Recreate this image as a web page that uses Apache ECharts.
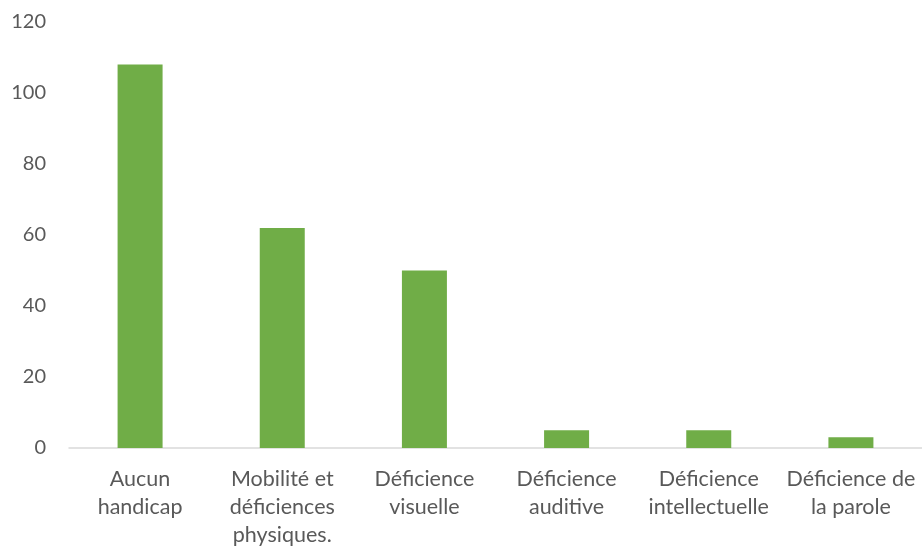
<!DOCTYPE html>
<html>
<head>
<meta charset="utf-8">
<script src="https://cdn.jsdelivr.net/npm/echarts@6/dist/echarts.min.js"></script>
<style>
  html, body { margin: 0; padding: 0; background: #ffffff; }
  #chart { width: 922px; height: 549px; }
</style>
</head>
<body>
<div id="chart"></div>
<script>
// Categories (line breaks as shown under each bar)
const categories = [
  'Aucun\nhandicap',
  'Mobilité et\ndéficiences\nphysiques.',
  'Déficience\nvisuelle',
  'Déficience\nauditive',
  'Déficience\nintellectuelle',
  'Déficience de\nla parole'
];
// Count per category
const values = [108, 62, 50, 5, 5, 3];
// Value axis ticks
const yTicks = [0, 20, 40, 60, 80, 100, 120];

const chart = echarts.init(document.getElementById('chart'), null, { renderer: 'canvas' });
const fontFamily = 'Lato, "Open Sans", sans-serif';

chart.setOption({
  animation: false,
  grid: { left: 69, top: 22, width: 855, height: 427, containLabel: false },
  xAxis: {
    type: 'category',
    data: categories,
    axisLine: { show: true, lineStyle: { color: '#d9d9d9', width: 1.5 } },
    axisTick: { show: false },
    axisLabel: {
      interval: 0,
      margin: 17,
      color: '#595959',
      fontSize: 21.5,
      lineHeight: 28,
      fontFamily: fontFamily
    }
  },
  yAxis: {
    type: 'value',
    min: yTicks[0],
    max: yTicks[yTicks.length - 1],
    interval: 20,
    splitLine: { show: false },
    axisLine: { show: false },
    axisTick: { show: false },
    axisLabel: {
      margin: 23,
      color: '#595959',
      fontSize: 20,
      fontFamily: fontFamily
    }
  },
  series: [{
    type: 'bar',
    data: values,
    barWidth: 45,
    itemStyle: { color: '#70ad47' }
  }]
});
</script>
</body>
</html>
